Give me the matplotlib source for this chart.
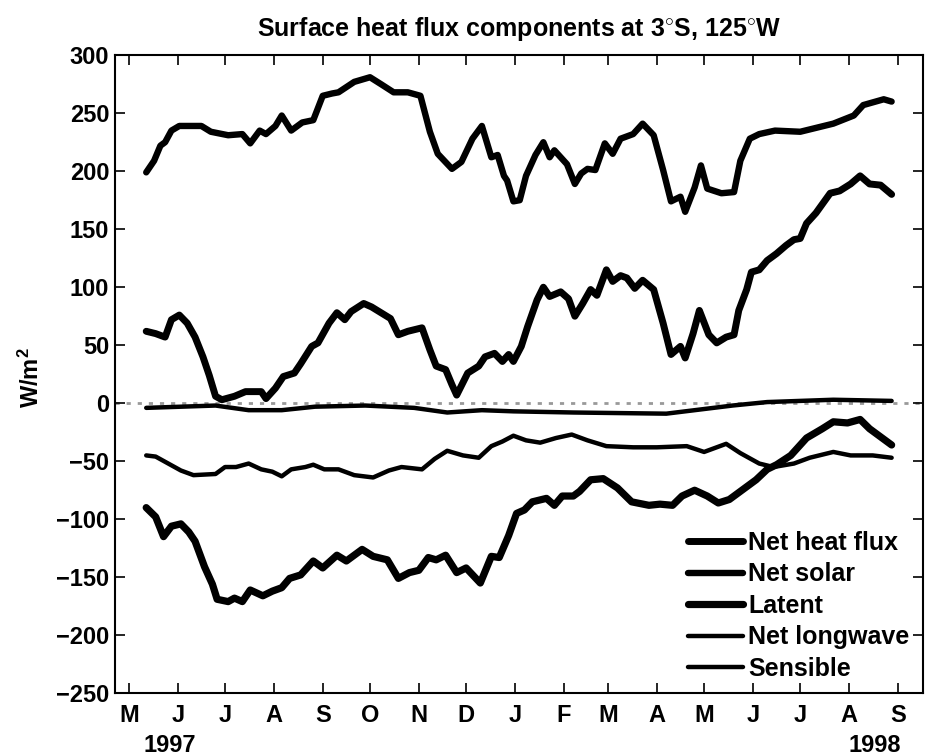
import numpy as np
import matplotlib
matplotlib.use('Agg')
import matplotlib.pyplot as plt

# days counted from 1 May 1997, values in W/m^2
solar_day = [11, 16, 20, 23, 27, 32, 46, 52, 63, 72, 77, 83, 87, 93, 97, 103, 110, 117, 123, 129,
             133, 143, 153, 160, 168, 177, 185, 191, 196, 205, 211, 218, 224, 230, 234, 238, 240, 244, 248, 252,
             258, 263, 267, 270, 278, 283, 287, 291, 296, 302, 307, 312, 320, 326, 333, 339, 344, 350, 353, 359,
             363, 367, 376, 384, 388, 394, 400, 410, 426, 447, 460, 466, 479, 484]
solar_val = [199, 209, 222, 225, 235, 239, 239, 234, 231, 232, 224, 235, 232, 239, 248, 235, 242, 244, 265, 267,
             268, 277, 281, 275, 268, 268, 265, 234, 215, 202, 208, 228, 239, 212, 214, 196, 192, 174, 175, 196,
             214, 225, 212, 218, 206, 189, 198, 202, 201, 224, 215, 228, 232, 241, 231, 201, 174, 178, 165, 186,
             205, 185, 181, 182, 209, 228, 232, 235, 234, 241, 248, 257, 262, 260]

net_day = [11, 17, 23, 27, 32, 37, 42, 47, 51, 55, 59, 67, 74, 84, 87, 93, 98, 105, 109, 116,
           120, 127, 132, 137, 141, 149, 154, 160, 166, 171, 177, 186, 191, 195, 201, 205, 208, 215, 222, 226,
           232, 237, 241, 244, 249, 253, 259, 263, 267, 274, 279, 283, 288, 293, 297, 303, 307, 312, 316, 321,
           326, 333, 339, 344, 350, 353, 358, 362, 368, 373, 379, 384, 387, 392, 395, 400, 405, 411, 417, 422,
           426, 430, 436, 445, 451, 458, 464, 470, 477, 484]
net_val = [62, 60, 57, 72, 76, 69, 57, 40, 24, 6, 3, 6, 10, 10, 4, 13, 23, 26, 34, 49,
           52, 69, 78, 72, 79, 86, 83, 78, 73, 59, 62, 65, 46, 32, 29, 16, 7, 26, 32, 40,
           43, 36, 42, 36, 49, 66, 89, 100, 92, 96, 90, 75, 86, 98, 93, 115, 105, 110, 108, 99,
           106, 98, 69, 42, 49, 39, 60, 80, 59, 52, 57, 59, 80, 98, 113, 115, 123, 129, 136, 141,
           142, 155, 164, 181, 183, 189, 196, 189, 188, 180]

lat_day = [11, 17, 22, 27, 33, 38, 42, 48, 53, 56, 63, 67, 72, 77, 85, 91, 97, 102, 109, 117,
           123, 132, 138, 148, 155, 164, 171, 178, 184, 190, 195, 201, 208, 214, 223, 230, 235, 241, 246, 251,
           256, 265, 270, 275, 282, 286, 293, 301, 310, 319, 330, 337, 345, 351, 359, 367, 374, 381, 390, 398,
           405, 411, 420, 430, 440, 447, 456, 464, 470, 478, 484]
lat_val = [-90, -98, -115, -106, -104, -111, -119, -141, -156, -169, -171, -168, -171, -161, -166, -162, -159, -151, -148, -136,
           -142, -131, -136, -126, -132, -135, -151, -146, -144, -133, -135, -131, -146, -142, -155, -132, -133, -114, -95, -92,
           -85, -82, -88, -80, -80, -76, -66, -65, -73, -85, -88, -87, -88, -80, -75, -80, -86, -83, -74, -66,
           -57, -53, -45, -30, -22, -16, -17, -14, -22, -30, -36]

lw_day = [11, 17, 25, 33, 41, 55, 61, 68, 76, 84, 91, 97, 103, 112, 117, 124, 133, 143, 155, 165,
          173, 186, 194, 202, 212, 222, 230, 237, 244, 252, 261, 271, 281, 291, 303, 320, 335, 354, 365, 379,
          388, 400, 409, 422, 432, 447, 458, 472, 484]
lw_val = [-45, -46, -52, -58, -62, -61, -55, -55, -52, -57, -59, -63, -57, -55, -53, -57, -57, -62, -64, -58,
          -55, -57, -48, -41, -45, -47, -37, -33, -28, -32, -34, -30, -27, -32, -37, -38, -38, -37, -42, -35,
          -43, -52, -55, -52, -47, -42, -45, -45, -47]

sens_day = [11, 33, 55, 76, 97, 118, 150, 181, 202, 224, 244, 282, 341, 383, 405, 447, 484]
sens_val = [-4, -3, -2, -6, -6, -3, -2, -4, -8, -6, -7, -8, -9, -2, 1, 3, 2]

month_labels = ['M', 'J', 'J', 'A', 'S', 'O', 'N', 'D', 'J', 'F', 'M', 'A', 'M', 'J', 'J', 'A', 'S']
yticks = [-250, -200, -150, -100, -50, 0, 50, 100, 150, 200, 250, 300]

plt.rcParams['font.family'] = ['Liberation Sans', 'DejaVu Sans']
plt.rcParams['font.weight'] = 'bold'
plt.rcParams['mathtext.fontset'] = 'custom'
plt.rcParams['mathtext.rm'] = 'Liberation Sans:bold'
plt.rcParams['mathtext.it'] = 'Liberation Sans:bold'
plt.rcParams['mathtext.bf'] = 'Liberation Sans:bold'

base = np.datetime64('1997-05-01')


def to_dates(days):
    return base + np.array(days).astype('timedelta64[D]')


fig = plt.figure(figsize=(9.25, 7.56), dpi=100)
ax = fig.add_axes([0.124, 0.083, 0.874, 0.844])

ax.axhline(0, color='0.6', ls=(0, (1.5, 2.5)), lw=2, zorder=1)

ax.plot(to_dates(net_day), net_val, color='k', lw=5.0, label='Net heat flux', solid_capstyle='round')
ax.plot(to_dates(solar_day), solar_val, color='k', lw=4.6, label='Net solar', solid_capstyle='round')
ax.plot(to_dates(lat_day), lat_val, color='k', lw=5.2, label='Latent', solid_capstyle='round')
ax.plot(to_dates(lw_day), lw_val, color='k', lw=3.2, label='Net longwave', solid_capstyle='round')
ax.plot(to_dates(sens_day), sens_val, color='k', lw=3.2, label='Sensible', solid_capstyle='round')

ticks = np.arange('1997-05', '1998-10', dtype='datetime64[M]').astype('datetime64[D]')
ax.set_xticks(ticks)
ax.set_xticklabels(month_labels)
ax.set_xlim(np.datetime64('1997-04-22'), np.datetime64('1998-09-17'))
ax.set_ylim(-250, 300)
ax.set_yticks(yticks)

ax.tick_params(direction='in', top=True, right=True, length=7, width=1.2, labelsize=17)
ax.tick_params(axis='x', pad=8)
ax.tick_params(axis='y', pad=4)
for sp in ax.spines.values():
    sp.set_linewidth(1.5)

ax.text(0.068, -0.082, '1997', transform=ax.transAxes, ha='center', va='center', fontsize=17)
ax.text(0.94, -0.082, '1998', transform=ax.transAxes, ha='center', va='center', fontsize=17)

ax.set_title(r'Surface heat flux components at 3$^{\circ}$S, 125$^{\circ}$W', fontsize=18,
             fontweight='bold', pad=14)
fig.text(0.034, 0.50, r'W/m$^2$', rotation=90, ha='center', va='center', fontsize=17)

leg = ax.legend(loc='lower right', bbox_to_anchor=(1.005, -0.008), frameon=False, fontsize=18,
                handlelength=2.2, handletextpad=0.2, labelspacing=0.3, borderaxespad=0.3)

plt.savefig('out.png', dpi=100)
